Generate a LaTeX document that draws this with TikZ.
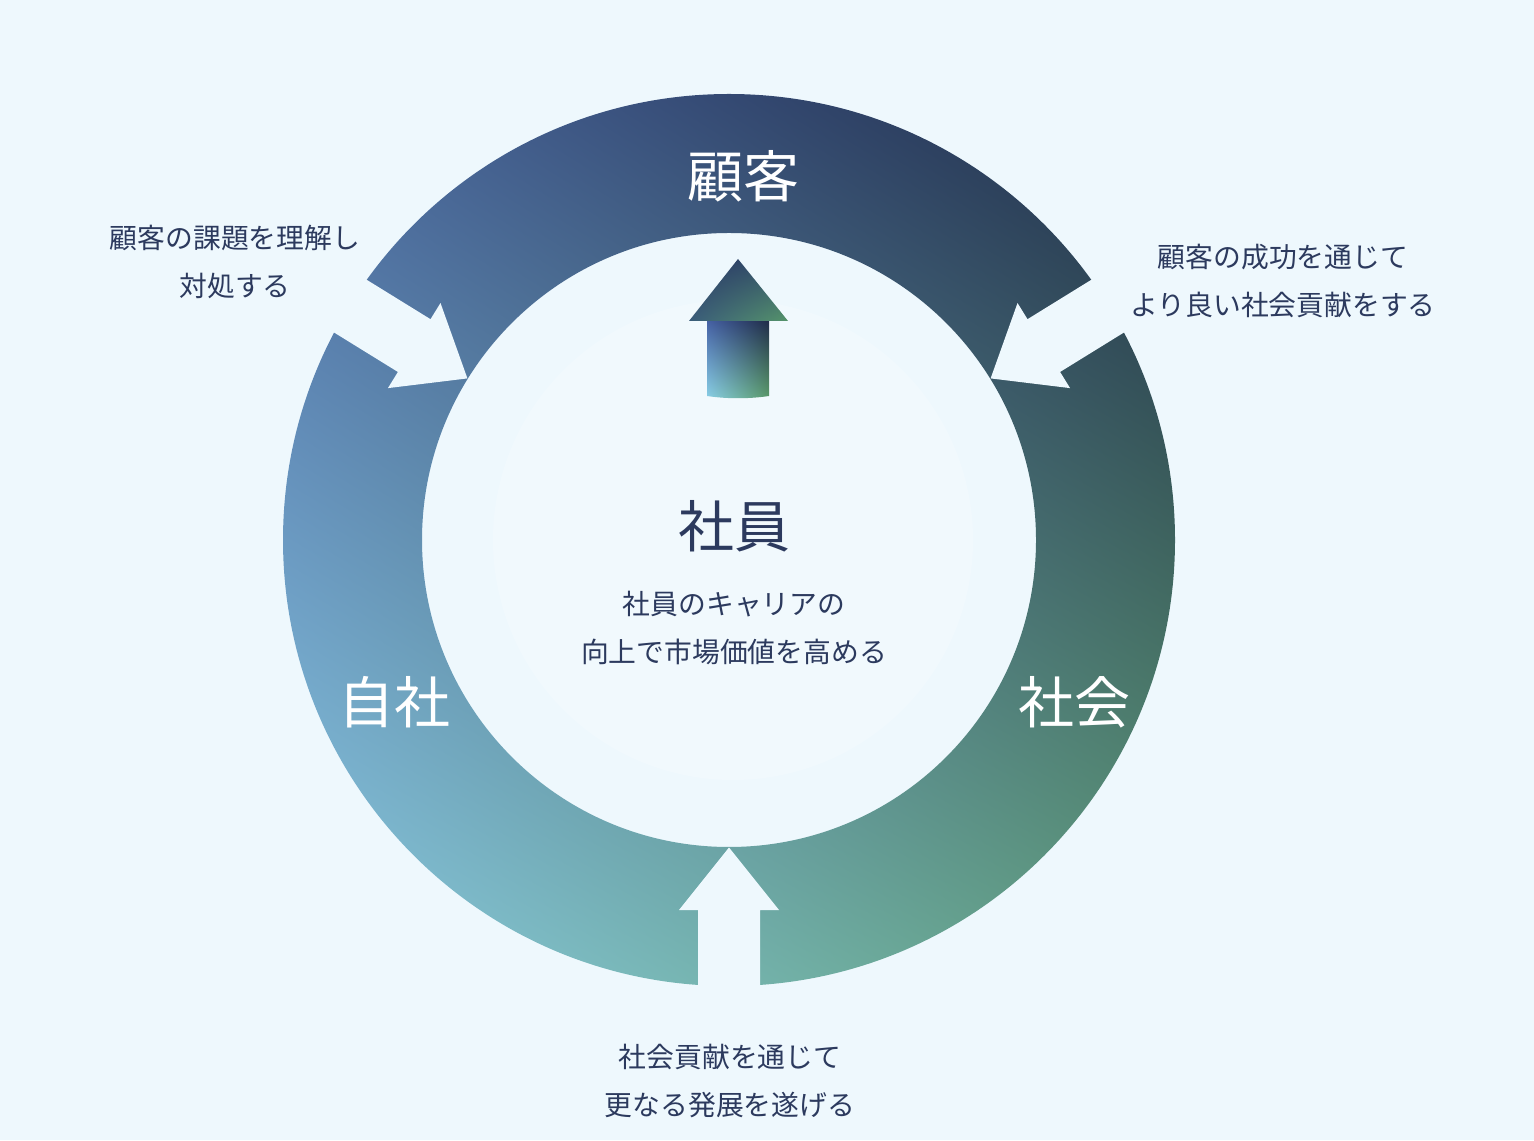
\documentclass[tikz,border=0pt]{standalone}
\usepackage{fontspec}
\newfontfamily\jp{Noto Sans CJK JP}
\usetikzlibrary{shadings}
\definecolor{bg}{HTML}{EEF8FD}
\definecolor{ink}{HTML}{2C3A5E}
\definecolor{ringUL}{HTML}{4A68A0}
\definecolor{ringUR}{HTML}{1E2A45}
\definecolor{ringLL}{HTML}{8CCCE4}
\definecolor{ringLR}{HTML}{5E9C78}
\definecolor{shUL}{HTML}{4560A4}
\definecolor{shUR}{HTML}{1F2B48}
\definecolor{shLL}{HTML}{8AD0E6}
\definecolor{shLR}{HTML}{5A9A68}
\definecolor{hdUL}{HTML}{2A3866}
\definecolor{hdUR}{HTML}{33506A}
\definecolor{hdLL}{HTML}{3A5C7A}
\definecolor{hdLR}{HTML}{55946A}
\begin{document}
\begin{tikzpicture}[x=0.5pt,y=0.5pt,
  smalltext/.style={font=\jp\fontsize{13.9}{24}\selectfont, text=ink, align=center, inner sep=0pt},
  bigdark/.style={font=\jp\fontsize{28}{34}\selectfont, text=ink, inner sep=0pt},
  biglight/.style={font=\jp\fontsize{28}{34}\selectfont, text=white, inner sep=0pt},
  gapfill/.style={fill=bg}]
\fill[bg] (0,0) rectangle (1534,1140);
\useasboundingbox (0,0) rectangle (1534,1140);
\coordinate (C) at (729,600);
% faint inner glow
\fill[white, opacity=0.18] (733,600) circle[radius=240];
% ring
\shade[even odd rule, lower left=ringLL, upper left=ringUL, upper right=ringUR, lower right=ringLR]
  (C) circle[radius=446] (C) circle[radius=307];
% gap arrows pointing to the centre
\foreach \a in {148.3,31.7,270}{
  \fill[gapfill, shift={(C)}, rotate=\a]
    (307.5,0) -- (370,50) -- (370,31) -- (480,31) -- (480,-31) -- (370,-31) -- (370,-50) -- cycle;
}
% central arrow
\shade[lower left=shLL, upper left=shUL, upper right=shUR, lower right=shLR]
  (707,820) -- (769,820) -- (769,744) .. controls (749,741) and (727,741) .. (707,744) -- cycle;
\shade[lower left=hdLL, upper left=hdUL, upper right=hdUR, lower right=hdLR]
  (689,819) -- (738,881) -- (788,819) -- cycle;
% labels
\node[bigdark] (shain) at (734,614) {社員};
\node[smalltext] (shaindesc) at (734,512.5) {社員のキャリアの\\向上で市場価値を高める};
\node[biglight] (kokyaku) at (743,964) {顧客};
\node[biglight] (jisha) at (394,438) {自社};
\node[biglight] (shakai) at (1074,438) {社会};
\node[smalltext] (t1) at (235,878.5) {顧客の課題を理解し\\対処する};
\node[smalltext] (t2) at (1283,859) {顧客の成功を通じて\\より良い社会貢献をする};
\node[smalltext] (t3) at (730,59) {社会貢献を通じて\\更なる発展を遂げる};
\end{tikzpicture}
\end{document}
